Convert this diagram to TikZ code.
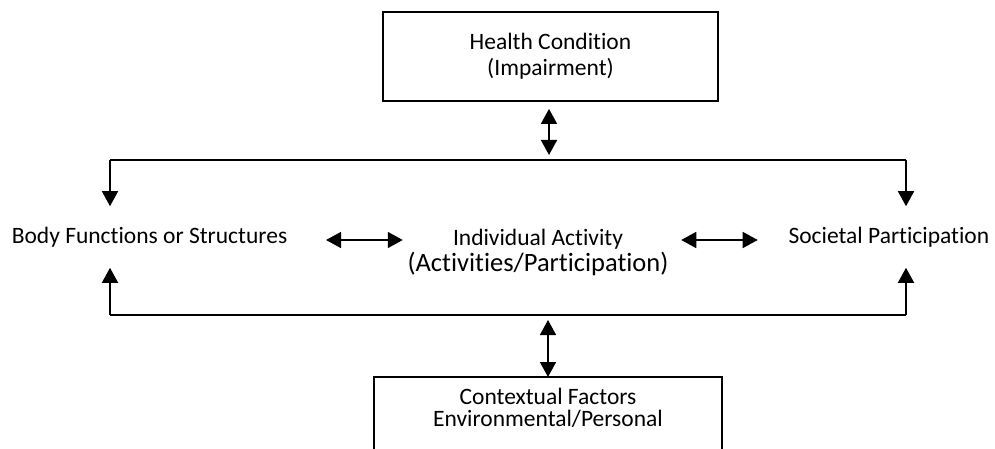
\documentclass[tikz,border=0pt]{standalone}
\usepackage{fontspec}
\setmainfont{Carlito}[Ligatures = NoCommon]
\usetikzlibrary{positioning}
\usetikzlibrary{arrows.meta}

\begin{document}
\begin{tikzpicture}[x = 1pt, y = 1pt, line width = 1.6pt,
	tip/.style = {-{Triangle[width = 16pt, length = 15pt]}},
	dbl/.style = {{Triangle[width = 16pt, length = 15pt]}-{Triangle[width = 16pt, length = 15pt]}},
	box/.style = {draw, line width = 1.8pt, align = center, font = \fontsize{23.5}{26}\selectfont},
	txt/.style = {inner sep = 0pt, align = center, font = \fontsize{23.5}{26}\selectfont}]
	\clip (0, 0) rectangle (995, -449);
	\node [box, minimum width = 335, minimum height = 89] (health) at (550.5, -56.5) {Health Condition\\(Impairment)};
	\node [txt, anchor = west, minimum height = 60] (body) at (11, -237) {Body Functions or Structures};
	\node [txt, anchor = east, minimum height = 60] (soc) at (990, -237) {Societal Participation};
	\node [txt] (act) at (538, -252) {Individual Activity\\{\fontsize{26.5}{30}\selectfont(Activities/Participation)}};
	\node [txt, minimum width = 346, minimum height = 60, anchor = north] (ctx) at (548, -377) {Contextual Factors\\[-4pt]Environmental/Personal};
	\coordinate (tl) at (110, -160);
	\coordinate (tr) at (906, -160);
	\coordinate (bl) at (110, -315);
	\coordinate (br) at (906, -315);
	\draw (tl) -- (tr);
	\draw (bl) -- (br);
	\draw [tip] (tl) -- (tl |- body.north);
	\draw [tip] (tr) -- (tr |- soc.north);
	\draw [tip] (bl) -- (bl |- body.south);
	\draw [tip] (br) -- (br |- soc.south);
	\draw [dbl, shorten < = 7pt, shorten > = 5pt] ([xshift = -1.5]health.south) -- ([xshift = -1.5]health.south |- tl);
	\draw [dbl, shorten < = 5pt, shorten > = 0pt] (ctx.north |- bl) -- (ctx.north);
	\draw [dbl, shorten < = 38pt, shorten > = 4pt] ([yshift = -3]body.east) -- ([yshift = -3]body.east -| act.west);
	\draw [dbl, shorten < = 12pt, shorten > = 30pt] ([yshift = -3]soc.west -| act.east) -- ([yshift = -3]soc.west);
	\draw [line width = 1.8pt] ([yshift = -60]ctx.south west) -- (ctx.north west) -- (ctx.north east) -- ([yshift = -60]ctx.south east);
\end{tikzpicture}
\end{document}
